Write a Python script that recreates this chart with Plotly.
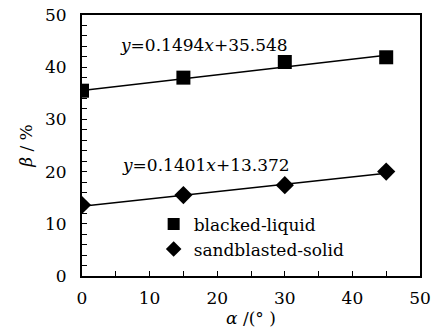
import plotly.graph_objects as go

alpha = [0, 15, 30, 45]
blacked_liquid = [35.5, 38.0, 41.0, 41.9]
sandblasted_solid = [13.6, 15.5, 17.4, 20.0]

fit_liquid = (0.1494, 35.548)
fit_solid = (0.1401, 13.372)
fit_x = [0, 45]

FONT = "'DejaVu Serif', serif"

fig = go.Figure()
for (a, b) in (fit_liquid, fit_solid):
    fig.add_trace(go.Scatter(x=fit_x, y=[a * x + b for x in fit_x], mode="lines",
                             line=dict(color="black", width=1.5), showlegend=False,
                             hoverinfo="skip"))
fig.add_trace(go.Scatter(x=alpha, y=blacked_liquid, mode="markers", name="blacked-liquid",
                         marker=dict(symbol="square", size=14, color="black")))
fig.add_trace(go.Scatter(x=alpha, y=sandblasted_solid, mode="markers", name="sandblasted-solid",
                         marker=dict(symbol="diamond", size=14, color="black")))

fig.add_annotation(x=0.107, y=0.885, xref="paper", yref="paper", xanchor="left", yanchor="middle",
                   text="<i>y</i>=0.1494<i>x</i>+35.548", showarrow=False,
                   font=dict(family=FONT, size=17, color="black"))
fig.add_annotation(x=0.112, y=0.427, xref="paper", yref="paper", xanchor="left", yanchor="middle",
                   text="<i>y</i>=0.1401<i>x</i>+13.372", showarrow=False,
                   font=dict(family=FONT, size=17, color="black"))

axis_common = dict(showline=True, linecolor="black", linewidth=2, mirror=True,
                   ticks="inside", ticklen=5, tickwidth=1, tickcolor="black",
                   showgrid=False, zeroline=False, automargin=False,
                   ticklabeloverflow="allow",
                   tickfont=dict(family=FONT, size=17, color="black"))
fig.update_xaxes(range=[0, 50], dtick=10, minor=dict(dtick=5, ticks="inside", ticklen=5, tickcolor="black"),
                 title=dict(text="<i>α</i> /(° )", font=dict(family=FONT, size=17, color="black"), standoff=5),
                 ticklabelstandoff=6, **axis_common)
fig.update_yaxes(range=[0, 50], dtick=10, minor=dict(dtick=2, ticks="inside", ticklen=5, tickcolor="black"),
                 title=dict(text="<i>β</i> / %", font=dict(family=FONT, size=17, color="black"), standoff=8),
                 ticklabelstandoff=10, **axis_common)

fig.update_layout(width=436, height=331, margin=dict(l=82, r=16, t=15, b=55),
                  paper_bgcolor="white", plot_bgcolor="white",
                  legend=dict(x=0.212, y=0.15, xanchor="left", yanchor="middle",
                              font=dict(family=FONT, size=17, color="black"),
                              bgcolor="rgba(0,0,0,0)", itemsizing="constant",
                              tracegroupgap=0, itemwidth=30))
fig.write_html("out.html", config={"displayModeBar": False},
               post_script="document.body.style.margin='0';document.body.style.overflow='hidden';")
